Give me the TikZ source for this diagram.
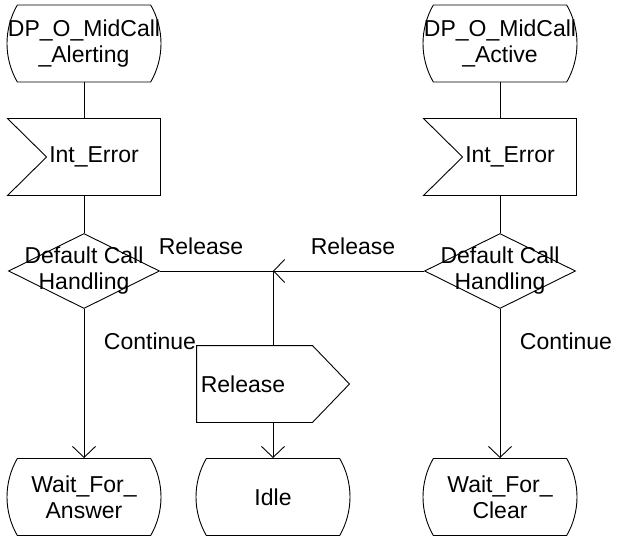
\documentclass[tikz,border=0pt]{standalone}
\usepackage{fontspec}
\setmainfont{Liberation Sans}
\usepackage{tikz}
\usetikzlibrary{arrows.meta,shapes.geometric,shapes.misc,positioning,calc}
\newcommand{\ctr}[1]{\makebox[0pt]{#1}}
\tikzset{
  state/.style={draw, shape=rounded rectangle, rounded rectangle arc length=60,
    minimum width=150pt, minimum height=77pt, inner sep=0pt, align=center},
  sigbox/.style={shape=rectangle, minimum width=152pt, minimum height=76pt, inner sep=0pt},
  decision/.style={draw, shape=diamond, minimum width=151pt, minimum height=75pt,
    inner sep=0pt, align=center},
  lbl/.style={inner sep=0pt},
}
\begin{document}
\begin{tikzpicture}[x=1pt, y=-1pt, line width=0.9pt,
    >={Straight Barb[length=11pt,width=23pt]}, font=\fontsize{23}{26}\selectfont]
  \useasboundingbox (0,0) rectangle (620,540);
  % columns
  \def\xl{84} \def\xm{273} \def\xr{500}
  % left branch
  \node[state] (alert) at (\xl,43.5) {\ctr{DP\_O\_MidCall}\\\ctr{\_Alerting}};
  \node[sigbox] (in1) at (\xl,157) {\hspace*{20pt}Int\_Error};
  \node[decision] (dch1) at (\xl,271) {\ctr{Default Call}\\\ctr{Handling}};
  % right branch
  \node[state] (active) at (\xr,43.5) {\ctr{DP\_O\_MidCall}\\\ctr{\_Active}};
  \node[sigbox] (in2) at (\xr,157) {\hspace*{20pt}Int\_Error};
  \node[decision] (dch2) at (\xr,271) {\ctr{Default Call}\\\ctr{Handling}};
  % release output
  \node[sigbox] (rel) at (\xm,384) {Release\hspace*{60pt}};
  % next states
  \node[state] (answer) at (\xl,497) {Wait\_For\_\\Answer};
  \node[state] (idle) at (\xm,497) {Idle};
  \node[state] (clear) at (\xr,497) {Wait\_For\_\\Clear};
  % signal outlines
  \foreach \n in {in1,in2}
    \draw (\n.north west) -- (\n.north east) -- (\n.south east) -- (\n.south west)
      -- ($(\n.west)+(39,0)$) -- cycle;
  \draw (rel.north west) -- ($(rel.north east)+(-37,0)$) -- (rel.east)
    -- ($(rel.south east)+(-37,0)$) -- (rel.south west) -- cycle;
  % connectors
  \coordinate (jn) at (rel.north |- dch1.east);
  \draw (alert.south) -- (in1.north);
  \draw (in1.south) -- (dch1.north);
  \draw (active.south) -- (in2.north);
  \draw (in2.south) -- (dch2.north);
  \draw (dch1.east) -- (jn);
  \draw[->] (dch2.west) -- (jn);
  \draw (jn) -- (rel.north);
  \draw[->] (rel.south) -- (idle.north);
  \draw[->] (dch1.south) -- (answer.north);
  \draw[->] (dch2.south) -- (clear.north);
  % branch labels
  \node[lbl] (relL) at (201,246) {Release};
  \node[lbl] (relR) at (353,246) {Release};
  \node[lbl] (contL) at (150,341) {Continue};
  \node[lbl] (contR) at (566,341) {Continue};
\end{tikzpicture}
\end{document}
